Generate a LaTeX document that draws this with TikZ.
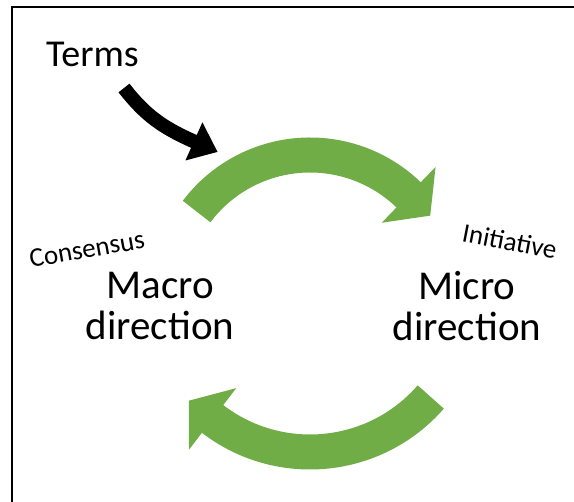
\documentclass[tikz,border=0pt]{standalone}
\usepackage{fontspec}
\setmainfont{Carlito}
\usepackage{tikz}
\usetikzlibrary{arrows.meta, positioning}
\definecolor{leafgreen}{RGB}{112,173,71}
\tikzstyle{greenarc} = [draw=leafgreen, line width=35pt, -{Triangle[length=30pt,width=76pt]}]
\tikzstyle{blackarrow} = [draw=black, line width=14pt, -{Triangle[length=26pt,width=40pt]}]
\tikzstyle{direction} = [align=center, inner sep=0pt, font=\fontsize{41}{41}\selectfont]
\tikzstyle{small} = [inner sep=0pt, anchor=base west, font=\fontsize{27}{32}\selectfont]

\begin{document}
\begin{tikzpicture}[x=1pt, y=1pt]
   \useasboundingbox (0,0) rectangle (574,502);

   % frame, only top and left edge
   \draw[line width=2.5pt] (12,0) |- (574,495);

   % labels
   \node[anchor=base west, inner sep=0pt, font=\fontsize{38}{45}\selectfont] (terms) at (46,435) {Terms};
   \node[direction] (macro) at (160,196) {Macro\\direction};
   \node[direction] (micro) at (467,196) {Micro\\direction};
   \node[small, rotate=10] (consensus) at (31,234) {Consensus};
   \node[small, rotate=-11] (initiative) at (461,261) {Initiative};

   % centres of the two arcs
   \coordinate (topc) at (310,205);
   \coordinate (botc) at (310,210);

   % green cycle arrows
   \draw[greenarc] (topc) ++(143:142) arc[start angle=143, end angle=46, radius=142] -- ++(-44:30);
   \draw[greenarc] (botc) ++(-41:160) arc[start angle=-41, end angle=-127.5, radius=160] -- ++(142.5:30);

   % black arrow below Terms
   \coordinate (tail) at (124,414);
   \coordinate (base) at (193,361);
   \draw[blackarrow] (tail) to[out=-52, in=156] (base) -- ++(-24:27);

\end{tikzpicture}
\end{document}
